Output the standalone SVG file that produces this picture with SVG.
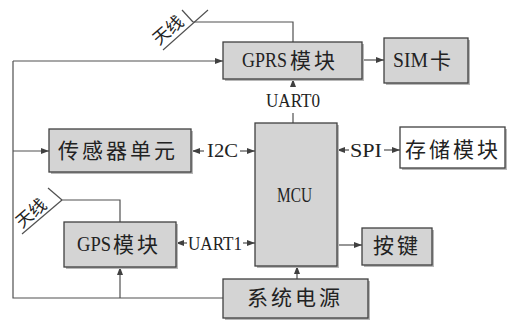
<svg xmlns="http://www.w3.org/2000/svg" width="508" height="323" viewBox="0 0 508 323">
<defs>
<marker id="ah" viewBox="0 0 8 6" refX="8" refY="3" markerWidth="8" markerHeight="6" markerUnits="userSpaceOnUse" orient="auto">
<path d="M0,0 L8,3 L0,6 Z" fill="#404040"/>
</marker>
<style>
.box{fill:#d4d4d4;stroke:#404040;stroke-width:1.3}
.wbox{fill:#ffffff;stroke:#404040;stroke-width:1.3}
.sh{fill:#b8b8b8}
.ln{fill:none;stroke:#505050;stroke-width:1.2}
.ar{fill:none;stroke:#505050;stroke-width:1.2;marker-end:url(#ah)}
.t{font-family:"Liberation Serif","Noto Sans CJK SC",serif;fill:#222;font-size:21px}
.cj{font-family:"Noto Sans CJK SC",sans-serif;fill:#222;font-size:21px;letter-spacing:3px}
.lb{font-family:"Liberation Serif","Noto Sans CJK SC",serif;fill:#222;font-size:19px}
.ant{font-family:"Noto Sans CJK SC",sans-serif;fill:#222;font-size:17px}
</style>
</defs>
<rect width="508" height="323" fill="#ffffff"/>

<g id="connectors">
<polyline class="ln" points="223,298 13,298 13,61"/>
<line class="ar" x1="13" y1="61" x2="223" y2="61"/>
<line class="ar" x1="13" y1="151" x2="49" y2="151"/>
<line class="ar" x1="120" y1="298" x2="120" y2="267"/>
<line class="ar" x1="297" y1="279" x2="297" y2="266"/>
<line class="ar" x1="362" y1="60" x2="384" y2="60"/>
<line class="ln" x1="293" y1="123" x2="293" y2="113"/>
<line class="ar" x1="293" y1="86" x2="293" y2="79"/>
<line class="ar" x1="204" y1="151" x2="192" y2="151"/>
<line class="ar" x1="240" y1="151" x2="255" y2="151"/>
<line class="ar" x1="349" y1="150" x2="337" y2="150"/>
<line class="ar" x1="384" y1="150" x2="400" y2="150"/>
<line class="ar" x1="187" y1="243" x2="176" y2="243"/>
<line class="ar" x1="243" y1="243" x2="255" y2="243"/>
<line class="ar" x1="337" y1="245" x2="362" y2="245"/>
<polyline class="ln" points="193,22 293,22 293,42"/>
<line class="ln" x1="163" y1="50" x2="208" y2="10"/>
<line class="ln" x1="182" y1="10" x2="193" y2="22"/>
<polyline class="ln" points="62,200 120,200 120,222"/>
<line class="ln" x1="22" y1="234" x2="62" y2="200"/>
<line class="ln" x1="48" y1="188" x2="62" y2="200"/>
</g>

<g id="labels">
<text class="lb" x="266" y="107" textLength="54" lengthAdjust="spacingAndGlyphs">UART0</text>
<text class="lb" x="207" y="157" textLength="31" lengthAdjust="spacingAndGlyphs">I2C</text>
<text class="lb" x="350" y="157" textLength="32" lengthAdjust="spacingAndGlyphs">SPI</text>
<text class="lb" x="188" y="250" textLength="54" lengthAdjust="spacingAndGlyphs">UART1</text>
<text class="ant" transform="translate(167,29) rotate(-41)" text-anchor="middle" dominant-baseline="central">天线</text>
<text class="ant" transform="translate(30,212) rotate(-41)" text-anchor="middle" dominant-baseline="central">天线</text>
</g>

<g id="gprs">
<rect class="sh" x="225" y="44" width="139" height="37"/>
<rect class="box" x="223" y="42" width="139" height="37"/>
<text class="t" x="242" y="67" textLength="45" lengthAdjust="spacingAndGlyphs">GPRS</text>
<text class="cj" x="290" y="67.5">模块</text>
</g>

<g id="sim">
<rect class="sh" x="386" y="40" width="84" height="45"/>
<rect class="box" x="384" y="38" width="84" height="45"/>
<text class="t" x="393" y="67" textLength="35" lengthAdjust="spacingAndGlyphs">SIM</text>
<text class="cj" x="430" y="67.5">卡</text>
</g>

<g id="sensor">
<rect class="sh" x="51" y="131" width="142" height="43"/>
<rect class="box" x="49" y="129" width="142" height="43"/>
<text class="cj" x="58" y="158">传感器单元</text>
</g>

<g id="mcu">
<rect class="sh" x="257" y="125" width="82" height="143"/>
<rect class="box" x="255" y="123" width="82" height="143"/>
<text class="t" x="277" y="202" textLength="35" lengthAdjust="spacingAndGlyphs">MCU</text>
</g>

<g id="storage">
<rect class="sh" x="402" y="129" width="105" height="41"/>
<rect class="wbox" x="400" y="127" width="105" height="41"/>
<text class="cj" x="405" y="157">存储模块</text>
</g>

<g id="gps">
<rect class="sh" x="66" y="224" width="112" height="45"/>
<rect class="box" x="64" y="222" width="112" height="45"/>
<text class="t" x="77" y="251" textLength="34" lengthAdjust="spacingAndGlyphs">GPS</text>
<text class="cj" x="113" y="251.5">模块</text>
</g>

<g id="keys">
<rect class="sh" x="364" y="230" width="70" height="37"/>
<rect class="box" x="362" y="228" width="70" height="37"/>
<text class="cj" x="373" y="253">按键</text>
</g>

<g id="power">
<rect class="sh" x="225" y="281" width="145" height="39"/>
<rect class="box" x="223" y="279" width="145" height="39"/>
<text class="cj" x="247" y="305">系统电源</text>
</g>
</svg>
